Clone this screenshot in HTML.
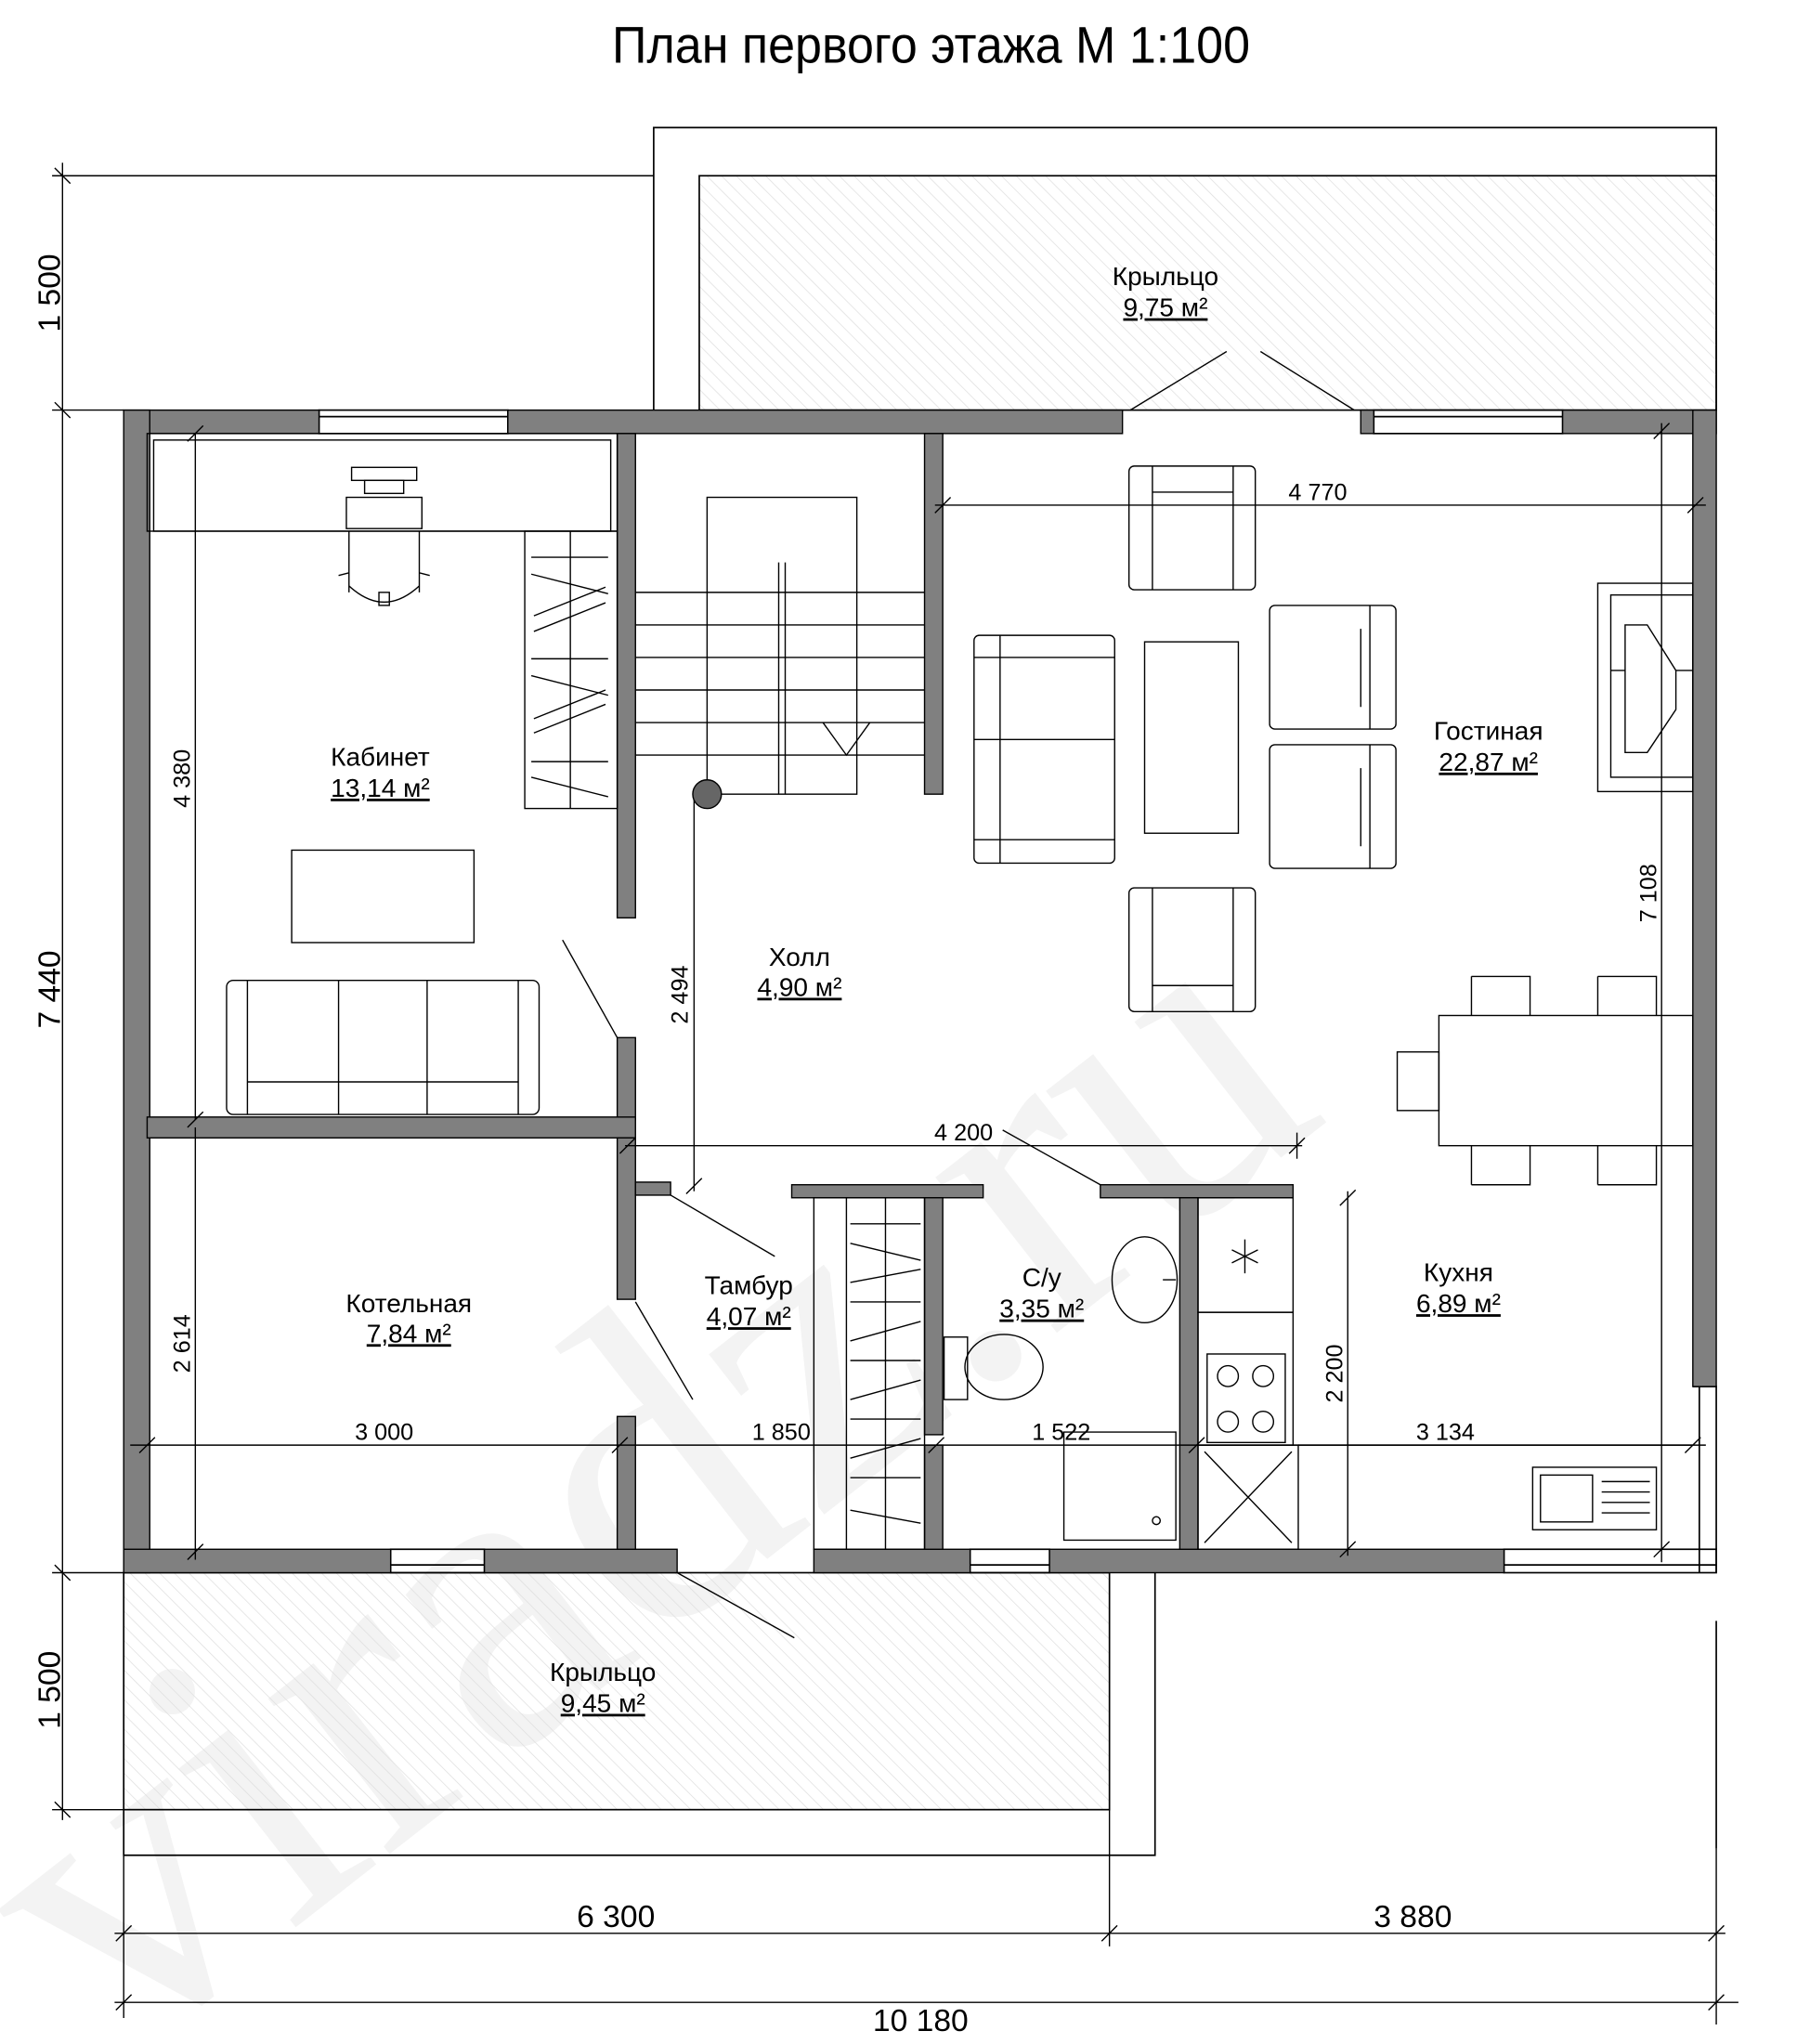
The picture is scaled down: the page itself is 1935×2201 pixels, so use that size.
<!DOCTYPE html>
<html><head><meta charset="utf-8"><style>
html,body{margin:0;padding:0;background:#fff}
svg{display:block}
text{font-family:"Liberation Sans Narrow","Liberation Sans",sans-serif;fill:#000}
</style></head><body>
<svg width="1935" height="2201" viewBox="0 0 1380 1570" preserveAspectRatio="none" xmlns="http://www.w3.org/2000/svg">
<defs>
<pattern id="h" width="8" height="8" patternUnits="userSpaceOnUse" patternTransform="rotate(-45)">
<line x1="0" y1="0" x2="0" y2="8" stroke="#ddd" stroke-width="1"/>
</pattern>
</defs>
<rect width="1380" height="1570" fill="#fff"/>
<text x="0" y="1480" font-size="330" style="fill:#f3f3f3;font-family:'Liberation Serif',serif" transform="rotate(-38 200 1400)">viradz.ru</text>

<text x="470" y="48" font-size="40" textLength="490" lengthAdjust="spacingAndGlyphs">План первого этажа М 1:100</text>

<g fill="none" stroke="#000" stroke-width="1.2">
<polyline points="502,315 502,98 1318,98 1318,315"/>
<rect x="537" y="135" width="781" height="180" fill="url(#h)" stroke="#000"/>
<rect x="95" y="1208" width="757" height="182" fill="url(#h)"/>
<polyline points="95,1390 95,1425 887,1425 887,1208"/>
<line x1="1318" y1="1245" x2="1318" y2="1420"/>
<polyline points="1300,1065 1318,1065 1318,1208"/>
<line x1="1305" y1="1065" x2="1305" y2="1208"/>
<rect x="245" y="315" width="145" height="18"/><line x1="245" y1="320" x2="390" y2="320"/>
<rect x="1055" y="315" width="145" height="18"/><line x1="1055" y1="320" x2="1200" y2="320"/>
<rect x="300" y="1190" width="72" height="18"/><line x1="300" y1="1202" x2="372" y2="1202"/>
<rect x="745" y="1190" width="61" height="18"/><line x1="745" y1="1202" x2="806" y2="1202"/>
<rect x="1155" y="1190" width="163" height="18"/><line x1="1155" y1="1202" x2="1318" y2="1202"/>
</g>

<g fill="#808080" stroke="#000" stroke-width="1">
<rect x="95" y="315" width="150" height="18"/>
<rect x="390" y="315" width="472" height="18"/>
<rect x="1045" y="315" width="10" height="18"/>
<rect x="1200" y="315" width="118" height="18"/>
<rect x="95" y="315" width="20" height="893"/>
<rect x="1300" y="315" width="18" height="750"/>
<rect x="95" y="1190" width="205" height="18"/>
<rect x="372" y="1190" width="148" height="18"/>
<rect x="625" y="1190" width="120" height="18"/>
<rect x="806" y="1190" width="349" height="18"/>
<rect x="474" y="333" width="14" height="372"/>
<rect x="474" y="797" width="14" height="63"/>
<rect x="113" y="858" width="375" height="16"/>
<rect x="474" y="874" width="14" height="124"/>
<rect x="474" y="1088" width="14" height="102"/>
<rect x="488" y="908" width="27" height="10"/>
<rect x="710" y="333" width="14" height="277"/>
<rect x="608" y="910" width="147" height="10"/>
<rect x="710" y="920" width="14" height="182"/>
<rect x="710" y="1110" width="14" height="80"/>
<rect x="845" y="910" width="148" height="10"/>
<rect x="906" y="920" width="14" height="270"/>
</g>

<g fill="none" stroke="#000" stroke-width="1">
<line x1="868" y1="315" x2="942" y2="270"/><line x1="1040" y1="315" x2="968" y2="270"/>
<line x1="474" y1="797" x2="432" y2="722"/>
<line x1="515" y1="918" x2="595" y2="965"/>
<line x1="488" y1="1000" x2="532" y2="1075"/>
<line x1="520" y1="1208" x2="610" y2="1258"/>
<line x1="845" y1="910" x2="770" y2="868"/>
<rect x="113" y="333" width="361" height="75"/>
<rect x="118" y="338" width="351" height="70"/>
<rect x="270" y="359" width="50" height="10"/><rect x="280" y="369" width="30" height="10"/>
<rect x="266" y="382" width="58" height="24"/>
<path d="M268,408 V455 M322,408 V455 M268,450 Q295,475 322,450 M268,440 L260,442 M322,440 L330,442"/>
<rect x="291" y="455" width="8" height="10"/>
<rect x="403" y="408" width="71" height="213"/><line x1="438" y1="408" x2="438" y2="621"/>
<path d="M408,428 H467 M408,441 L467,456 M410,473 L465,451 M410,485 L465,463 M408,506 H467 M408,519 L467,534 M410,552 L465,530 M410,563 L465,541 M408,585 H467 M408,597 L467,612"/>
<rect x="224" y="653" width="140" height="71"/>
<rect x="174" y="753" width="240" height="103" rx="5"/>
<path d="M190,753 V856 M398,753 V856 M190,831 H398 M260,753 V856 M328,753 V856"/>
<rect x="543" y="382" width="115" height="228"/>
<path d="M488,455 H710 M488,480 H710 M488,505 H710 M488,530 H710 M488,555 H710 M488,580 H710 M598,432 V610 M603,432 V610 M632,555 L650,580 L668,555"/>
<line x1="533" y1="610" x2="533" y2="915"/>
<circle cx="543" cy="610" r="11" fill="#666"/>
<rect x="867" y="358" width="97" height="95" rx="4"/><path d="M885,358 V453 M947,358 V453 M885,378 H947"/>
<rect x="867" y="682" width="97" height="95" rx="4"/><path d="M885,682 V777 M947,682 V777 M885,757 H947"/>
<rect x="748" y="488" width="108" height="175" rx="4"/><path d="M748,505 H856 M748,645 H856 M768,488 V663 M748,568 H856"/>
<rect x="879" y="493" width="72" height="147"/>
<rect x="975" y="465" width="97" height="95" rx="4"/><path d="M1052,465 V560 M1045,483 V543"/>
<rect x="975" y="572" width="97" height="95" rx="4"/><path d="M1052,572 V667 M1045,590 V650"/>
<rect x="1227" y="448" width="73" height="160"/><rect x="1237" y="457" width="63" height="140"/>
<path d="M1248,480 L1265,480 L1287,515 L1287,545 L1265,578 L1248,578 Z M1237,515 H1248 M1287,515 H1300"/>
<rect x="1105" y="780" width="195" height="100"/>
<rect x="1073" y="808" width="32" height="45"/>
<path d="M1130,750 H1175 V780 M1130,750 V780 M1227,750 H1272 V780 M1227,750 V780 M1130,910 H1175 V880 M1130,910 V880 M1227,910 H1272 V880 M1227,910 V880"/>
<rect x="625" y="920" width="85" height="270"/><line x1="650" y1="920" x2="650" y2="1190"/><line x1="680" y1="920" x2="680" y2="1190"/>
<path d="M653,940 H707 M653,955 L707,968 M653,985 L707,975 M653,1000 H707 M653,1030 L707,1015 M653,1045 H707 M653,1075 L707,1060 M653,1090 H707 M653,1120 L707,1105 M653,1135 H707 M653,1160 L707,1170"/>
<ellipse cx="879" cy="983" rx="25" ry="33"/><path d="M893,983 H903"/>
<rect x="725" y="1027" width="18" height="48"/><ellipse cx="771" cy="1050" rx="30" ry="25"/>
<path d="M817,1100 H903 V1183 H817 V1135 Z"/><circle cx="888" cy="1168" r="3"/>
<rect x="920" y="920" width="73" height="88"/>
<path d="M946,960 L966,970 M956,952 V978 M946,970 L966,960"/>
<rect x="920" y="1008" width="73" height="102"/>
<rect x="927" y="1040" width="60" height="68"/>
<circle cx="943" cy="1057" r="8"/><circle cx="970" cy="1057" r="8"/><circle cx="943" cy="1092" r="8"/><circle cx="970" cy="1092" r="8"/>
<rect x="920" y="1110" width="77" height="80"/><path d="M925,1115 L992,1185 M992,1115 L925,1185"/>
<path d="M997,1110 H1300"/>
<rect x="1177" y="1127" width="95" height="48"/><rect x="1183" y="1133" width="40" height="36"/><path d="M1230,1138 H1267 M1230,1146 H1267 M1230,1154 H1267 M1230,1162 H1267"/>
</g>

<g stroke="#000" stroke-width="1" fill="none">
<line x1="48" y1="125" x2="48" y2="1398"/>
<line x1="40" y1="135" x2="502" y2="135"/>
<line x1="40" y1="315" x2="95" y2="315"/>
<line x1="40" y1="1208" x2="95" y2="1208"/>
<line x1="40" y1="1390" x2="95" y2="1390"/>
<path d="M42,129 L54,141 M42,309 L54,321 M42,1202 L54,1214 M42,1384 L54,1396"/>
<line x1="88" y1="1485" x2="1325" y2="1485"/>
<line x1="88" y1="1538" x2="1335" y2="1538"/>
<line x1="95" y1="1390" x2="95" y2="1550"/>
<line x1="852" y1="1390" x2="852" y2="1495"/>
<line x1="1318" y1="1420" x2="1318" y2="1555"/>
<path d="M89,1491 L101,1479 M846,1491 L858,1479 M1312,1491 L1324,1479 M89,1544 L101,1532 M1312,1544 L1324,1532"/>
<line x1="150" y1="333" x2="150" y2="860"/><path d="M144,339 L156,327 M144,866 L156,854"/>
<line x1="150" y1="866" x2="150" y2="1198"/><path d="M144,1198 L156,1186"/>
<line x1="100" y1="1110" x2="720" y2="1110"/><path d="M107,1116 L119,1104 M470,1116 L482,1104 M713,1116 L725,1104"/>
<line x1="720" y1="1110" x2="1310" y2="1110"/><path d="M913,1116 L925,1104 M1294,1116 L1306,1104"/>
<line x1="480" y1="880" x2="1000" y2="880"/><path d="M476,886 L488,874 M990,886 L1002,874 M996,870 V890"/>
<line x1="718" y1="388" x2="1310" y2="388"/><path d="M718,394 L730,382 M1296,394 L1308,382"/>
<line x1="1276" y1="325" x2="1276" y2="1200"/><path d="M1270,337 L1282,325 M1270,1196 L1282,1184"/>
<line x1="1035" y1="915" x2="1035" y2="1195"/><path d="M1029,926 L1041,914 M1029,1196 L1041,1184"/>
<path d="M527,917 L539,905"/>
</g>

<g font-size="24" text-anchor="middle">
<text transform="translate(46,225) rotate(-90)">1 500</text>
<text transform="translate(46,760) rotate(-90)">7 440</text>
<text transform="translate(46,1298) rotate(-90)">1 500</text>
<text x="473" y="1480">6 300</text>
<text x="1085" y="1480">3 880</text>
<text x="707" y="1560">10 180</text>
</g>
<g font-size="18" text-anchor="middle">
<text transform="translate(146,598) rotate(-90)">4 380</text>
<text transform="translate(146,1032) rotate(-90)">2 614</text>
<text transform="translate(528,764) rotate(-90)">2 494</text>
<text transform="translate(1272,686) rotate(-90)">7 108</text>
<text transform="translate(1031,1055) rotate(-90)">2 200</text>
<text x="295" y="1106">3 000</text>
<text x="600" y="1106">1 850</text>
<text x="815" y="1106">1 522</text>
<text x="1110" y="1106">3 134</text>
<text x="740" y="876">4 200</text>
<text x="1012" y="384">4 770</text>
</g>

<g font-size="20" text-anchor="middle">
<text x="895" y="219">Крыльцо</text>
<text x="895" y="243" text-decoration="underline">9,75 м²</text>
<text x="292" y="588">Кабинет</text>
<text x="292" y="612" text-decoration="underline">13,14 м²</text>
<text x="1143" y="568">Гостиная</text>
<text x="1143" y="592" text-decoration="underline">22,87 м²</text>
<text x="614" y="742">Холл</text>
<text x="614" y="765" text-decoration="underline">4,90 м²</text>
<text x="314" y="1008">Котельная</text>
<text x="314" y="1031" text-decoration="underline">7,84 м²</text>
<text x="575" y="994">Тамбур</text>
<text x="575" y="1018" text-decoration="underline">4,07 м²</text>
<text x="800" y="988">С/у</text>
<text x="800" y="1012" text-decoration="underline">3,35 м²</text>
<text x="1120" y="984">Кухня</text>
<text x="1120" y="1008" text-decoration="underline">6,89 м²</text>
<text x="463" y="1291">Крыльцо</text>
<text x="463" y="1315" text-decoration="underline">9,45 м²</text>
</g>
</svg>
</body></html>
